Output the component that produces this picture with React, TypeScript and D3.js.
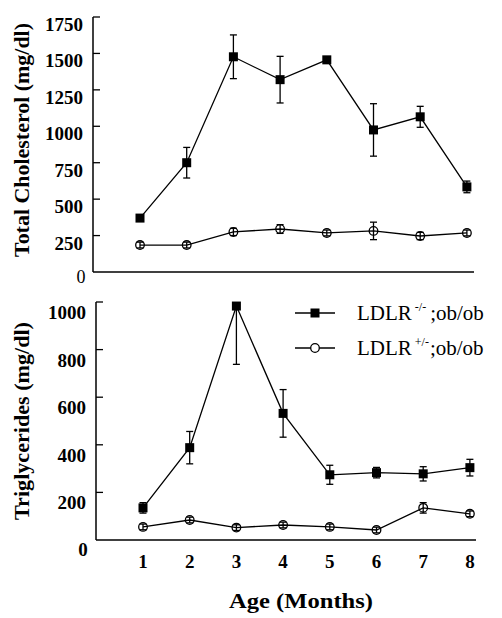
import React from "react";
import * as d3 from "d3";

const months = [1, 2, 3, 4, 5, 6, 7, 8];

// Total cholesterol (mg/dl)
const cholKO = [370, 750, 1477, 1320, 1456, 975, 1065, 584];
const cholKOErr = [15, 105, 150, 160, 15, 180, 72, 40];
const cholHet = [185, 185, 275, 295, 268, 282, 247, 268];
const cholHetErr = [20, 20, 25, 30, 20, 60, 25, 20];

// Triglycerides (mg/dl)
const tgKO = [135, 388, 983, 532, 274, 283, 278, 304];
const tgKOErr = [22, 68, 245, 100, 40, 22, 30, 35];
const tgHet = [55, 84, 52, 63, 55, 42, 135, 110];
const tgHetErr = [12, 12, 12, 12, 12, 12, 22, 12];

const cholTicks = [250, 500, 750, 1000, 1250, 1500, 1750];
const tgTicks = [200, 400, 600, 800, 1000];

const legendLabels = [
  { main: "LDLR", sup: "-/-", tail: ";ob/ob" },
  { main: "LDLR", sup: "+/-", tail: ";ob/ob" },
];

const FONT = "'Liberation Serif', 'Times New Roman', Times, serif";

type PanelProps = {
  xLeft: number;
  xRight: number;
  x0: number;
  xStep: number;
  yScale: d3.ScaleLinear<number, number>;
  ticks: number[];
  ko: number[];
  koErr: number[];
  het: number[];
  hetErr: number[];
  labelDy: number;
  clipId: string;
};

function Panel(p: PanelProps) {
  const x = d3
    .scaleLinear()
    .domain([1, 8])
    .range([p.x0, p.x0 + 7 * p.xStep]);
  const y = p.yScale;
  const [yBottom, yTop] = y.range();
  const line = d3
    .line<number>()
    .x((_, i) => x(months[i]))
    .y((d) => y(d));
  const cap = 3.5;
  const errBars = (vals: number[], errs: number[], key: string) =>
    vals.map((v, i) => {
      const cx = x(months[i]);
      const y1 = y(v + errs[i]);
      const y2 = y(v - errs[i]);
      return (
        <g key={key + i} clipPath={`url(#${p.clipId})`}>
          <line x1={cx} x2={cx} y1={y1} y2={y2} stroke="#000" strokeWidth={1.3} />
          <line x1={cx - cap} x2={cx + cap} y1={y1} y2={y1} stroke="#000" strokeWidth={1.3} />
          <line x1={cx - cap} x2={cx + cap} y1={y2} y2={y2} stroke="#000" strokeWidth={1.3} />
        </g>
      );
    });
  return (
    <g>
      <defs>
        <clipPath id={p.clipId}>
          <rect x={p.xLeft} y={yTop + 3} width={p.xRight - p.xLeft} height={yBottom - yTop} />
        </clipPath>
      </defs>
      {/* axes */}
      <line x1={p.xLeft} x2={p.xLeft} y1={yTop} y2={yBottom} stroke="#000" strokeWidth={1.5} />
      <line x1={p.xLeft} x2={p.xRight} y1={yBottom} y2={yBottom} stroke="#000" strokeWidth={1.5} />
      {p.ticks.map((t) => (
        <g key={"t" + t}>
          <line x1={p.xLeft} x2={p.xLeft + 7} y1={y(t)} y2={y(t)} stroke="#000" strokeWidth={1.3} />
          <text
            x={p.xLeft - 10}
            y={y(t) + p.labelDy}
            textAnchor="end"
            fontFamily={FONT}
            fontWeight="bold"
            fontSize={19}
          >
            {t}
          </text>
        </g>
      ))}
      {/* lines */}
      <path d={line(p.het) || ""} fill="none" stroke="#000" strokeWidth={1.3} />
      <path d={line(p.ko) || ""} fill="none" stroke="#000" strokeWidth={1.3} />
      {errBars(p.het, p.hetErr, "he")}
      {errBars(p.ko, p.koErr, "ke")}
      {p.het.map((v, i) => (
        <circle
          key={"c" + i}
          cx={x(months[i])}
          cy={y(v)}
          r={4.3}
          fill="none"
          stroke="#000"
          strokeWidth={1.3}
        />
      ))}
      {p.ko.map((v, i) => (
        <rect
          key={"s" + i}
          x={x(months[i]) - 4.5}
          y={y(v) - 4.5}
          width={9}
          height={9}
          fill="#000"
        />
      ))}
    </g>
  );
}

export default function App() {
  const yChol = d3.scaleLinear().domain([0, 1750]).range([272, 17]);
  const yTg = d3.scaleLinear().domain([0, 1000]).range([540, 302]);
  const xBottom = d3.scaleLinear().domain([1, 8]).range([143, 143 + 7 * 46.7]);

  return (
    <svg
      width={502}
      height={618}
      style={{ position: "absolute", left: 0, top: 0, background: "#fff" }}
    >
      <rect x={0} y={0} width={502} height={618} fill="#fff" />
      <Panel
        xLeft={93}
        xRight={474}
        x0={140}
        xStep={46.7}
        yScale={yChol}
        ticks={cholTicks}
        ko={cholKO}
        koErr={cholKOErr}
        het={cholHet}
        hetErr={cholHetErr}
        labelDy={14}
        clipId="clipTop"
      />
      <Panel
        xLeft={96}
        xRight={476}
        x0={143}
        xStep={46.7}
        yScale={yTg}
        ticks={tgTicks}
        ko={tgKO}
        koErr={tgKOErr}
        het={tgHet}
        hetErr={tgHetErr}
        labelDy={17}
        clipId="clipBot"
      />
      {/* zero labels */}
      <text x={81} y={283} textAnchor="middle" fontFamily={FONT} fontSize={18}>
        0
      </text>
      <text x={83} y={556} textAnchor="middle" fontFamily={FONT} fontWeight="bold" fontSize={19}>
        0
      </text>
      {/* x tick labels */}
      {months.map((m) => (
        <text
          key={"xl" + m}
          x={xBottom(m)}
          y={568}
          textAnchor="middle"
          fontFamily={FONT}
          fontWeight="bold"
          fontSize={19}
        >
          {m}
        </text>
      ))}
      {/* axis titles */}
      <text
        transform="translate(29,140) rotate(-90)"
        textAnchor="middle"
        fontFamily={FONT}
        fontWeight="bold"
        fontSize={21}
        textLength={234}
        lengthAdjust="spacingAndGlyphs"
      >
        Total Cholesterol (mg/dl)
      </text>
      <text
        transform="translate(29,421) rotate(-90)"
        textAnchor="middle"
        fontFamily={FONT}
        fontWeight="bold"
        fontSize={21}
        textLength={198}
        lengthAdjust="spacingAndGlyphs"
      >
        Triglycerides (mg/dl)
      </text>
      <text
        x={301}
        y={608}
        textAnchor="middle"
        fontFamily={FONT}
        fontWeight="bold"
        fontSize={21}
        textLength={144}
        lengthAdjust="spacingAndGlyphs"
      >
        Age (Months)
      </text>
      {/* legend */}
      {legendLabels.map((l, i) => {
        const ly = 313 + i * 35;
        return (
          <g key={"lg" + i}>
            <line x1={295} x2={335} y1={ly} y2={ly} stroke="#000" strokeWidth={1.3} />
            {i === 0 ? (
              <rect x={315 - 4.5} y={ly - 4.5} width={9} height={9} fill="#000" />
            ) : (
              <circle cx={315} cy={ly} r={4.3} fill="#fff" stroke="#000" strokeWidth={1.3} />
            )}
            <text x={357} y={ly + 7} fontFamily={FONT} fontSize={21}>
              {l.main}
              <tspan dx={3} dy={-9} fontSize={12}>
                {l.sup}
              </tspan>
              <tspan dx={i === 0 ? 4 : 1} dy={9}>
                {l.tail}
              </tspan>
            </text>
          </g>
        );
      })}
    </svg>
  );
}
